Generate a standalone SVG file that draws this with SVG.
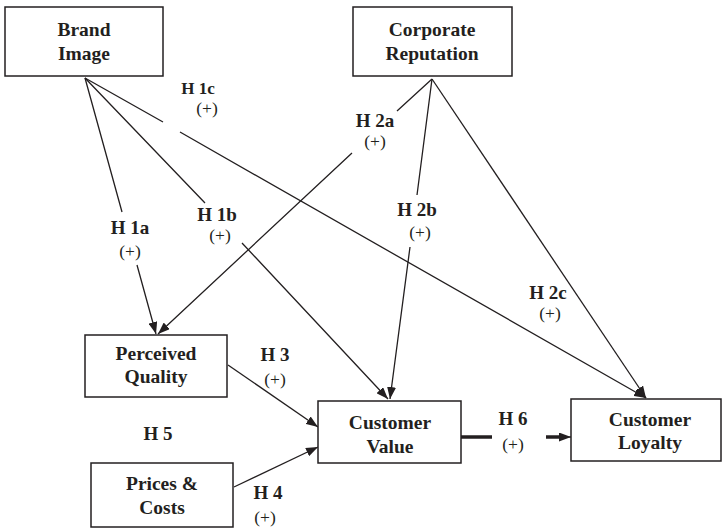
<svg xmlns="http://www.w3.org/2000/svg" width="723" height="530" viewBox="0 0 723 530">
<style>
.box{fill:#fff;stroke:#231f20;stroke-width:1.5}
.bt{font-family:"Liberation Serif","Times New Roman",serif;font-weight:bold;font-size:19.5px;fill:#231f20;text-anchor:middle}
.lb{font-family:"Liberation Serif","Times New Roman",serif;font-weight:bold;font-size:19px;fill:#231f20;text-anchor:middle}
.pl{font-family:"Liberation Serif","Times New Roman",serif;font-size:17.5px;fill:#231f20;text-anchor:middle}
.ln{fill:none;stroke:#231f20;stroke-width:1.3}
.thick{fill:none;stroke:#231f20;stroke-width:3.5}
</style>
<defs>
<marker id="ah" viewBox="0 0 12 9" refX="12" refY="4.5" markerWidth="12" markerHeight="9" markerUnits="userSpaceOnUse" orient="auto">
<path d="M0,0 L12,4.5 L0,9 z" fill="#231f20"/>
</marker>
</defs>
<rect width="723" height="530" fill="#fff"/>
<g id="connectors">
<path class="ln" d="M85,78 L122,212 M137,265 L156,334" marker-end="url(#ah)"/>
<path class="ln" d="M85,78 L205,203 M242,243 L388,399" marker-end="url(#ah)"/>
<path class="ln" d="M85,78 L163,122 M180,132 L646,398" marker-end="url(#ah)"/>
<path class="ln" d="M432,79 L397,111 M352,153 L158,334" marker-end="url(#ah)"/>
<path class="ln" d="M432,79 L417,195 M410,247 L390,399" marker-end="url(#ah)"/>
<path class="ln" d="M432,79 L646,398" marker-end="url(#ah)"/>
<path class="ln" d="M228,365 L318,427" marker-end="url(#ah)"/>
<path class="ln" d="M234,487 L318,447" marker-end="url(#ah)"/>
<path class="thick" d="M461,437 L492,437"/>
<path class="thick" d="M546,437 L562,437"/>
<path class="ln" d="M560,437 L571,437" marker-end="url(#ah)"/>
</g>
<g id="labels">
<text class="lb" x="198" y="94" style="font-size:17px">H 1c</text>
<text class="pl" x="207" y="114">(+)</text>
<text class="lb" x="375" y="127">H 2a</text>
<text class="pl" x="375" y="147">(+)</text>
<text class="lb" x="130" y="234">H 1a</text>
<text class="pl" x="130" y="257">(+)</text>
<text class="lb" x="217" y="221">H 1b</text>
<text class="pl" x="220" y="241">(+)</text>
<text class="lb" x="417" y="216">H 2b</text>
<text class="pl" x="420" y="238">(+)</text>
<text class="lb" x="548" y="299">H 2c</text>
<text class="pl" x="550" y="319">(+)</text>
<text class="lb" x="275" y="361">H 3</text>
<text class="pl" x="275" y="385">(+)</text>
<text class="lb" x="158" y="440">H 5</text>
<text class="lb" x="268" y="499">H 4</text>
<text class="pl" x="265" y="523">(+)</text>
<text class="lb" x="513" y="425">H 6</text>
<text class="pl" x="513" y="450">(+)</text>
</g>
<g id="brand-image">
<rect class="box" x="5" y="7" width="158" height="69"/>
<text class="bt" x="84" y="36">Brand</text>
<text class="bt" x="84" y="60">Image</text>
</g>
<g id="corporate-reputation">
<rect class="box" x="353" y="7" width="159" height="69"/>
<text class="bt" x="432" y="36">Corporate</text>
<text class="bt" x="432" y="60">Reputation</text>
</g>
<g id="perceived-quality">
<rect class="box" x="85" y="335" width="142" height="62"/>
<text class="bt" x="156" y="360">Perceived</text>
<text class="bt" x="156" y="383">Quality</text>
</g>
<g id="prices-costs">
<rect class="box" x="91" y="463" width="142" height="64"/>
<text class="bt" x="162" y="490">Prices &amp;</text>
<text class="bt" x="162" y="514">Costs</text>
</g>
<g id="customer-value">
<rect class="box" x="318" y="401" width="143" height="62"/>
<text class="bt" x="390" y="429">Customer</text>
<text class="bt" x="390" y="453">Value</text>
</g>
<g id="customer-loyalty">
<rect class="box" x="571" y="399" width="150" height="62"/>
<text class="bt" x="650" y="426">Customer</text>
<text class="bt" x="650" y="449">Loyalty</text>
</g>
</svg>
